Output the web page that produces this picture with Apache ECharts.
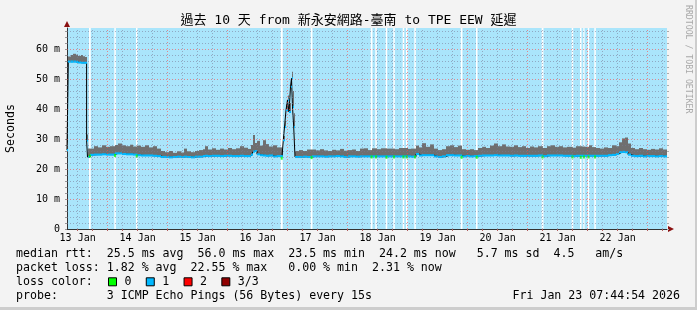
<!DOCTYPE html>
<html><head><meta charset="utf-8">
<script src="https://cdn.jsdelivr.net/npm/echarts@6/dist/echarts.min.js"></script>
<style>
html,body{margin:0;padding:0;background:#f3f3f3;}
#wrap{position:relative;width:697px;height:310px;overflow:hidden;}
#chart{position:absolute;left:0;top:0;width:697px;height:310px;}
.edgeR{position:absolute;right:0;top:0;width:2px;height:310px;background:#cdcdcd;}
.edgeB{position:absolute;left:0;bottom:0;width:697px;height:3px;background:#cdcdcd;}
</style></head><body>
<div id="wrap"><div id="chart"></div><div class="edgeR"></div><div class="edgeB"></div></div>
<script>
// ---- time frame (hours since 13 Jan 00:00) ----
const startHour = 7 + 44/60 + 54/3600;
const endHour = startHour + 240;

// ---- sample times (hours since 13 Jan 00:00) ----
const times = [7.75, 8.27, 9.35, 10.15, 11.35, 12.15, 13.15, 14.15, 14.95, 15.59, 15.95, 16.95, 18.55, 20.15, 21.75, 23.35, 24.95, 26.95, 28.15, 29.75, 31.35, 32.95, 34.15, 35.75, 37.35, 38.95, 40.55, 42.15, 43.75, 45.35, 46.95, 48.55, 50.15, 51.75, 53.35, 54.55, 55.75, 57.35, 58.95, 60.55, 62.15, 62.95, 64.15, 65.75, 67.35, 68.95, 70.55, 72.15, 73.75, 75.35, 76.95, 78.55, 80.15, 81.35, 82.15, 82.95, 83.75, 84.95, 86.15, 87.35, 88.55, 90.15, 91.75, 93.75, 94.27, 94.75, 95.35, 95.95, 96.55, 97.15, 97.55, 97.95, 98.43, 98.95, 100.55, 102.15, 103.75, 105.75, 107.35, 108.95, 110.55, 112.15, 113.75, 115.35, 116.95, 118.55, 120.15, 121.75, 123.35, 124.95, 126.55, 128.15, 129.75, 131.75, 133.35, 135.75, 138.95, 140.55, 144.15, 145.35, 147.35, 148.55, 149.75, 151.35, 152.95, 154.55, 156.15, 157.75, 159.35, 160.95, 162.55, 164.15, 165.75, 167.35, 168.95, 170.55, 172.15, 173.75, 175.35, 176.95, 178.55, 180.15, 181.75, 183.35, 184.95, 186.55, 188.15, 189.75, 191.35, 192.95, 194.55, 196.15, 198.15, 199.75, 201.35, 202.95, 204.55, 206.15, 207.75, 210.15, 211.35, 213.55, 214.95, 216.55, 217.75, 219.35, 220.95, 222.55, 224.15, 225.75, 227.35, 228.55, 229.75, 230.95, 232.15, 233.35, 234.95, 236.55, 238.15, 239.75, 241.35, 242.95, 244.55, 246.15, 247.35];

// ---- median rtt (ms) ----
const median = [26.3, 55.8, 55.8, 55.8, 55.7, 55.5, 55.4, 55.4, 55.4, 29.5, 24.0, 24.7, 24.8, 24.8, 24.9, 24.8, 24.8, 25.2, 25.2, 25.0, 24.9, 24.9, 24.8, 24.6, 24.5, 24.5, 24.5, 24.4, 24.3, 24.0, 24.0, 23.9, 24.0, 24.1, 24.0, 24.1, 24.0, 23.9, 24.1, 24.1, 24.3, 24.4, 24.3, 24.4, 24.4, 24.3, 24.4, 24.4, 24.3, 24.3, 24.4, 24.3, 24.3, 24.8, 25.8, 26.0, 24.9, 24.6, 24.5, 24.4, 24.5, 24.2, 24.3, 24.2, 29.6, 34.0, 39.6, 43.0, 39.0, 47.4, 50.2, 40.7, 34.0, 24.0, 24.0, 24.1, 24.0, 24.2, 24.2, 24.2, 24.1, 24.2, 24.2, 24.3, 24.2, 24.0, 24.2, 24.2, 24.1, 24.2, 24.2, 24.2, 24.2, 24.2, 24.2, 24.2, 24.2, 24.2, 24.2, 24.1, 25.0, 24.5, 24.6, 24.6, 24.6, 24.2, 24.0, 24.2, 24.6, 24.6, 24.5, 24.5, 24.2, 24.3, 24.2, 24.3, 24.4, 24.5, 24.5, 24.5, 24.6, 24.5, 24.5, 24.5, 24.4, 24.5, 24.4, 24.4, 24.4, 24.4, 24.4, 24.5, 24.3, 24.5, 24.5, 24.5, 24.5, 24.4, 24.4, 24.3, 24.4, 24.4, 24.4, 24.4, 24.4, 24.4, 24.4, 24.4, 24.6, 24.7, 25.0, 25.6, 25.7, 25.6, 24.8, 24.4, 24.3, 24.4, 24.2, 24.3, 24.3, 24.2, 24.3, 24.2, 24.2];

// ---- highest ping (top of smoke, ms) ----
const smokeTop = [28.8, 57.5, 58.0, 58.4, 58.1, 57.7, 58.0, 57.6, 57.3, 31.5, 26.8, 26.8, 27.6, 27.2, 27.9, 27.4, 27.6, 28.0, 28.5, 27.9, 27.6, 28.1, 27.5, 27.8, 27.4, 27.9, 27.2, 27.6, 26.8, 26.0, 25.6, 26.0, 25.4, 25.9, 25.5, 26.8, 25.9, 25.6, 26.0, 26.3, 26.6, 27.6, 26.5, 26.9, 26.4, 26.8, 26.5, 27.0, 26.6, 26.9, 27.6, 27.1, 26.7, 28.0, 31.3, 28.7, 29.4, 27.8, 29.6, 28.3, 27.5, 27.9, 27.2, 26.5, 31.0, 36.0, 41.5, 44.5, 42.0, 49.5, 52.4, 46.0, 38.6, 26.0, 26.3, 26.0, 26.5, 26.5, 26.2, 26.6, 26.2, 26.0, 26.4, 26.2, 26.7, 26.1, 26.3, 26.5, 26.0, 26.8, 26.9, 26.3, 26.9, 26.6, 26.9, 26.8, 26.6, 27.0, 26.7, 26.8, 27.8, 27.2, 28.6, 27.4, 28.2, 26.8, 26.3, 26.6, 27.6, 27.9, 27.3, 27.8, 26.6, 26.4, 26.6, 26.3, 27.0, 27.4, 27.0, 27.8, 28.5, 27.6, 28.2, 27.5, 27.4, 27.9, 27.3, 27.6, 27.0, 27.5, 27.2, 27.6, 27.0, 27.6, 27.9, 27.4, 27.6, 27.2, 27.4, 27.1, 27.6, 27.5, 27.4, 27.9, 27.3, 27.0, 26.8, 27.2, 27.0, 27.9, 27.6, 28.9, 30.2, 30.5, 28.5, 27.0, 26.6, 27.0, 26.6, 26.4, 26.7, 26.5, 26.9, 26.5, 26.5];

// ---- columns with no loss (loss colour 0) ----
const noLossStart = [16.55, 26.67, 35.35, 93.23, 105.23, 129.23, 131.07, 135.23, 138.27, 142.03, 143.35, 146.67, 165.23, 171.35, 197.63, 209.63, 212.95, 214.27, 216.03, 218.67];
const noLossLength = [0.7, 0.6, 0.6, 0.8, 0.7, 0.7, 0.6, 0.6, 0.6, 0.6, 0.6, 0.6, 0.7, 0.6, 0.7, 0.6, 0.6, 0.5, 0.6, 0.6];
const noLossMedian = [24.3, 24.5, 24.3, 23.6, 23.8, 24.0, 24.0, 23.9, 24.0, 24.0, 24.0, 24.0, 23.9, 23.9, 24.0, 24.0, 23.9, 24.0, 24.0, 24.0];

// ---- axis labels ----
const dayLabels = ['13 Jan','14 Jan','15 Jan','16 Jan','17 Jan','18 Jan','19 Jan','20 Jan','21 Jan','22 Jan'];
const dayLabelHours = [12, 36, 60, 84, 108, 132, 156, 180, 204, 228];
const yLabelValues = [0, 10, 20, 30, 40, 50, 60];
const yMax = 67;

const lossColors = ['#00ff00', '#00b8ff', '#ff0000', '#900000'];
const lossNames = ['0', '1', '2', '3/3'];

const FONT = "'DejaVu Sans Mono', 'Noto Sans CJK TC', monospace";
const BAND = 0.7;

// column items: [tStart, tEnd, low, high]
const colEnd = (i) => (i + 1 < times.length ? times[i + 1] : endHour);
const smokeCols = times.map((t, i) => [t, colEnd(i), median[i], smokeTop[i]]);
const bandCols = times.map((t, i) => [t, colEnd(i), median[i] - BAND / 2, median[i] + BAND / 2]);

function colRenderer(fill) {
  return function (params, api) {
    const a = api.coord([api.value(0), api.value(3)]);
    const b = api.coord([api.value(1), api.value(2)]);
    const x0 = Math.round(a[0]), x1 = Math.round(b[0]);
    return {type: 'rect', shape: {x: x0, y: a[1], width: Math.max(x1 - x0, 0), height: b[1] - a[1]},
      style: {fill: fill}, silent: true};
  };
}

// grid line positions
const gridMinorX = [], gridMajorX = [];
for (let h = 12; h < endHour; h += 6) (h % 24 === 0 ? gridMajorX : gridMinorX).push(h);
const gridMinorY = [], gridMajorY = [];
for (let v = 2; v < yMax; v += 2) (v % 10 === 0 ? gridMajorY : gridMinorY).push(v);
const yTickValues = [0].concat(gridMinorY, gridMajorY).sort((a,b)=>a-b);
const xTickValues = gridMinorX.concat(gridMajorX).sort((a,b)=>a-b);

const minorStyle = {color: 'rgba(120,120,150,0.55)', width: 1, type: [1, 2]};
const majorStyle = {color: 'rgba(255,70,70,0.6)', width: 1, type: [1, 2]};
const gridLines = [].concat(
  gridMinorX.map(h => ({xAxis: h, lineStyle: minorStyle})),
  gridMinorY.map(v => ({yAxis: v, lineStyle: minorStyle})),
  gridMajorX.map(h => ({xAxis: h, lineStyle: majorStyle})),
  gridMajorY.map(v => ({yAxis: v, lineStyle: majorStyle}))
);

const chart = echarts.init(document.getElementById('chart'), null, {renderer: 'canvas', width: 697, height: 310});
chart.setOption({
  animation: false,
  backgroundColor: 'transparent',
  grid: {left: 67, right: 30, top: 28, bottom: 81, containLabel: false, outerBoundsMode: 'none',
    show: true, backgroundColor: '#aae5fb', borderWidth: 0},
  legend: {
    left: 108, top: 276, padding: 0, itemWidth: 8, itemHeight: 8, itemGap: 14.3,
    icon: 'rect', selectedMode: false,
    itemStyle: {borderColor: '#000', borderWidth: 1},
    textStyle: {fontFamily: FONT, fontSize: 11.6, color: '#000', padding: [0, 0, 0, 3]},
    data: lossNames
  },
  xAxis: {
    type: 'value', min: startHour, max: endHour,
    axisLine: {show: true, lineStyle: {color: '#333', width: 1}},
    axisTick: {show: true, customValues: xTickValues, length: 2, lineStyle: {color: '#b06060'}},
    axisLabel: {
      customValues: dayLabelHours, margin: 4,
      formatter: (v) => dayLabels[dayLabelHours.indexOf(v)],
      fontFamily: FONT, fontSize: 10, color: '#000'
    },
    splitLine: {show: false}
  },
  yAxis: [{
    type: 'value', min: 0, max: yMax,
    name: 'Seconds', nameLocation: 'middle', nameGap: 50, nameRotate: 90,
    nameTextStyle: {fontFamily: FONT, fontSize: 11.6, color: '#000'},
    axisLine: {show: true, lineStyle: {color: '#333', width: 1}},
    axisTick: {show: true, customValues: yTickValues, length: 2, lineStyle: {color: '#999'}},
    axisLabel: {
      customValues: yLabelValues, margin: 7,
      formatter: (v) => v === 0 ? '0' : v + ' m',
      fontFamily: FONT, fontSize: 10, color: '#000'
    },
    splitLine: {show: false}
  }, {
    type: 'value', min: 0, max: yMax, position: 'right',
    axisLine: {show: false},
    axisTick: {show: true, customValues: yTickValues, length: 2, lineStyle: {color: '#aaa'}},
    axisLabel: {show: false},
    splitLine: {show: false}
  }],
  series: [
    {
      name: 'noloss-bg', type: 'line', data: [], z: 1, silent: true,
      markArea: {silent: true, z: 1, itemStyle: {color: '#ffffff'},
        data: noLossStart.map((s, i) => [{xAxis: s}, {xAxis: s + noLossLength[i]}])}
    },
    {
      name: 'smoke', type: 'custom', data: smokeCols, encode: {x: [0, 1], y: [2, 3]},
      renderItem: colRenderer('#6f6f6f'), z: 2, silent: true, clip: true
    },
    {
      name: 'medianLine', type: 'line', step: 'end', data: times.map((t, i) => [t, median[i]]),
      symbol: 'none', lineStyle: {color: '#000', width: 1}, z: 3, silent: true
    },
    {
      name: 'band', type: 'custom', data: bandCols, encode: {x: [0, 1], y: [2, 3]},
      renderItem: colRenderer('#00b8ff'), z: 4, silent: true, clip: true
    },
    {
      name: 'noLossMedian', type: 'scatter',
      data: noLossStart.map((s, i) => [s + noLossLength[i] / 2, noLossMedian[i]]),
      symbol: 'rect', symbolSize: [2, 3], itemStyle: {color: '#00ff00'}, z: 5, silent: true
    },
    {
      name: 'grid', type: 'line', data: [], z: 6, silent: true,
      markLine: {silent: true, z: 10, symbol: ['none', 'none'], label: {show: false}, animation: false, data: gridLines}
    },
    ...lossNames.map((n, i) => ({name: n, type: 'line', data: [], itemStyle: {color: lossColors[i]}, lineStyle: {color: lossColors[i]}}))
  ]
});

const pTop = chart.convertToPixel({gridIndex: 0}, [startHour, yMax]);
const pRight = chart.convertToPixel({gridIndex: 0}, [endHour, 0]);
const ARROW = '#8a1010';
const txt = (text, x, y, extra) => ({type: 'text', x: x, y: y, silent: true,
  style: Object.assign({text: text, fontFamily: FONT, fontSize: 11.6, fill: '#000', textAlign: 'left', align: 'left', textVerticalAlign: 'middle', verticalAlign: 'middle'}, extra || {})});

chart.setOption({
  graphic: [
    {type: 'polygon', silent: true, shape: {points: [[pTop[0] - 3, pTop[1] - 1], [pTop[0] + 3, pTop[1] - 1], [pTop[0], pTop[1] - 7]]}, style: {fill: ARROW}},
    {type: 'polygon', silent: true, shape: {points: [[pRight[0] + 1, pRight[1] - 3], [pRight[0] + 1, pRight[1] + 3], [pRight[0] + 7, pRight[1]]]}, style: {fill: ARROW}},
    txt('過去 10 天 from 新永安網路-臺南 to TPE EEW 延遲', 348.5, 21, {fontSize: 13, textAlign: 'center', align: 'center'}),
    {type: 'text', x: 688, y: 5, rotation: -Math.PI / 2, silent: true,
      style: {text: 'RRDTOOL / TOBI OETIKER', fontFamily: FONT, fontSize: 8.2, fill: '#a8a8a8', textAlign: 'left', align: 'left', textVerticalAlign: 'middle', verticalAlign: 'middle'}},
    txt('median rtt:  25.5 ms avg  56.0 ms max  23.5 ms min  24.2 ms now   5.7 ms sd  4.5   am/s', 16, 254),
    txt('packet loss: 1.82 % avg  22.55 % max   0.00 % min  2.31 % now', 16, 268),
    txt('loss color:', 16, 282),
    txt('probe:       3 ICMP Echo Pings (56 Bytes) every 15s', 16, 296),
    txt('Fri Jan 23 07:44:54 2026', 680, 296, {textAlign: 'right', align: 'right'})
  ]
});
</script>
</body></html>
